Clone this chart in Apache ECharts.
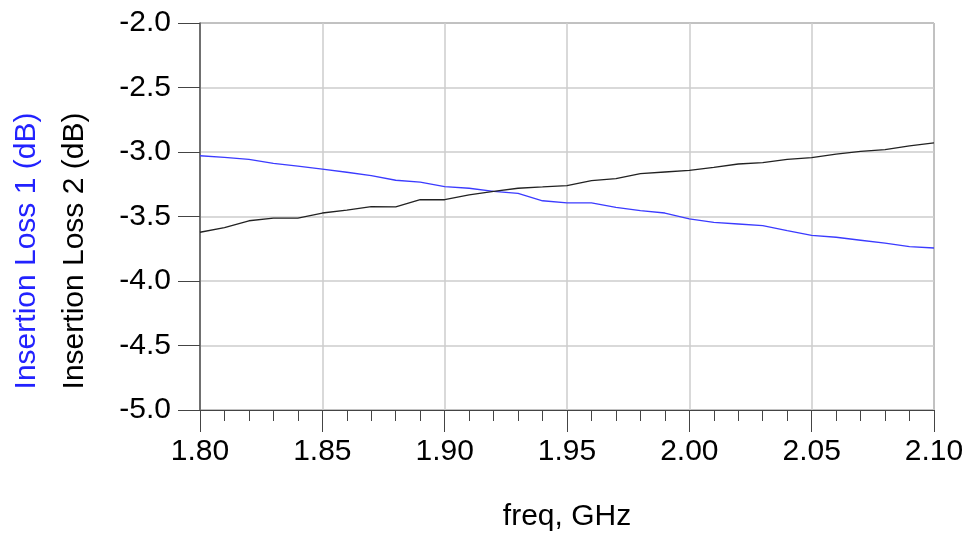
<!DOCTYPE html>
<html>
<head>
<meta charset="utf-8">
<script src="https://cdn.jsdelivr.net/npm/echarts@6/dist/echarts.min.js"></script>
<style>html,body{margin:0;padding:0;background:#fff;}#c{width:971px;height:537px;}</style>
</head>
<body>
<div id="c"></div>
<script>
const freq = [1.80,1.81,1.82,1.83,1.84,1.85,1.86,1.87,1.88,1.89,1.90,1.91,1.92,1.93,1.94,1.95,1.96,1.97,1.98,1.99,2.00,2.01,2.02,2.03,2.04,2.05,2.06,2.07,2.08,2.09,2.10];
const insertionLoss1 = [-3.029,-3.041,-3.057,-3.088,-3.109,-3.132,-3.157,-3.183,-3.219,-3.233,-3.269,-3.281,-3.305,-3.320,-3.378,-3.395,-3.395,-3.429,-3.455,-3.473,-3.519,-3.545,-3.558,-3.571,-3.610,-3.646,-3.661,-3.684,-3.707,-3.734,-3.744];
const insertionLoss2 = [-3.622,-3.587,-3.533,-3.512,-3.512,-3.473,-3.450,-3.424,-3.426,-3.370,-3.370,-3.333,-3.305,-3.281,-3.271,-3.260,-3.222,-3.207,-3.168,-3.155,-3.142,-3.119,-3.093,-3.083,-3.057,-3.044,-3.016,-2.995,-2.982,-2.953,-2.930];
const yTitle1 = 'Insertion Loss 1 (dB)';
const yTitle2 = 'Insertion Loss 2 (dB)';
const xTitle = 'freq, GHz';

const FONT = '"Liberation Sans", Arial, sans-serif';
const chart = echarts.init(document.getElementById('c'), null, {renderer: 'canvas'});
chart.setOption({
  animation: false,
  backgroundColor: '#fff',
  grid: {left: 200, right: 37, top: 23, bottom: 127, show: true, borderColor: '#444', borderWidth: 1, backgroundColor: 'transparent'},
  xAxis: {
    type: 'value', min: 1.8, max: 2.1, interval: 0.05,
    name: xTitle, nameLocation: 'middle', nameGap: 92,
    nameTextStyle: {fontFamily: FONT, fontSize: 30, color: '#000'},
    axisLine: {show: true, lineStyle: {color: '#444', width: 1}},
    axisTick: {show: true, inside: false, length: 22, lineStyle: {color: '#444', width: 1}},
    minorTick: {show: true, splitNumber: 5, length: 11, lineStyle: {color: '#444', width: 1}},
    axisLabel: {fontFamily: FONT, fontSize: 30, color: '#000', margin: 27, formatter: v => v.toFixed(2), showMinLabel: true, showMaxLabel: true},
    splitLine: {show: true, lineStyle: {color: '#cccccc', width: 1.5}}
  },
  yAxis: {
    type: 'value', min: -5, max: -2, interval: 0.5,
    axisLine: {show: true, lineStyle: {color: '#555', width: 1.5}},
    axisTick: {show: true, inside: false, length: 22, lineStyle: {color: '#444', width: 1}},
    axisLabel: {fontFamily: FONT, fontSize: 30, color: '#000', margin: 29, formatter: v => v.toFixed(1)},
    splitLine: {show: true, lineStyle: {color: '#cccccc', width: 1.5}}
  },
  graphic: [
    {type: 'text', x: 27, y: 251, rotation: Math.PI / 2,
     style: {text: yTitle1, fill: '#2222ff', font: '30px ' + FONT, align: 'center', verticalAlign: 'middle'}},
    {type: 'text', x: 75, y: 251, rotation: Math.PI / 2,
     style: {text: yTitle2, fill: '#000', font: '30px ' + FONT, align: 'center', verticalAlign: 'middle'}}
  ],
  series: [
    {name: yTitle1, type: 'line', showSymbol: false, symbol: 'none',
     data: freq.map((f, i) => [f, insertionLoss1[i]]),
     lineStyle: {color: '#3b3bff', width: 1.3}},
    {name: yTitle2, type: 'line', showSymbol: false, symbol: 'none',
     data: freq.map((f, i) => [f, insertionLoss2[i]]),
     lineStyle: {color: '#222', width: 1.3}}
  ]
});
</script>
</body>
</html>
